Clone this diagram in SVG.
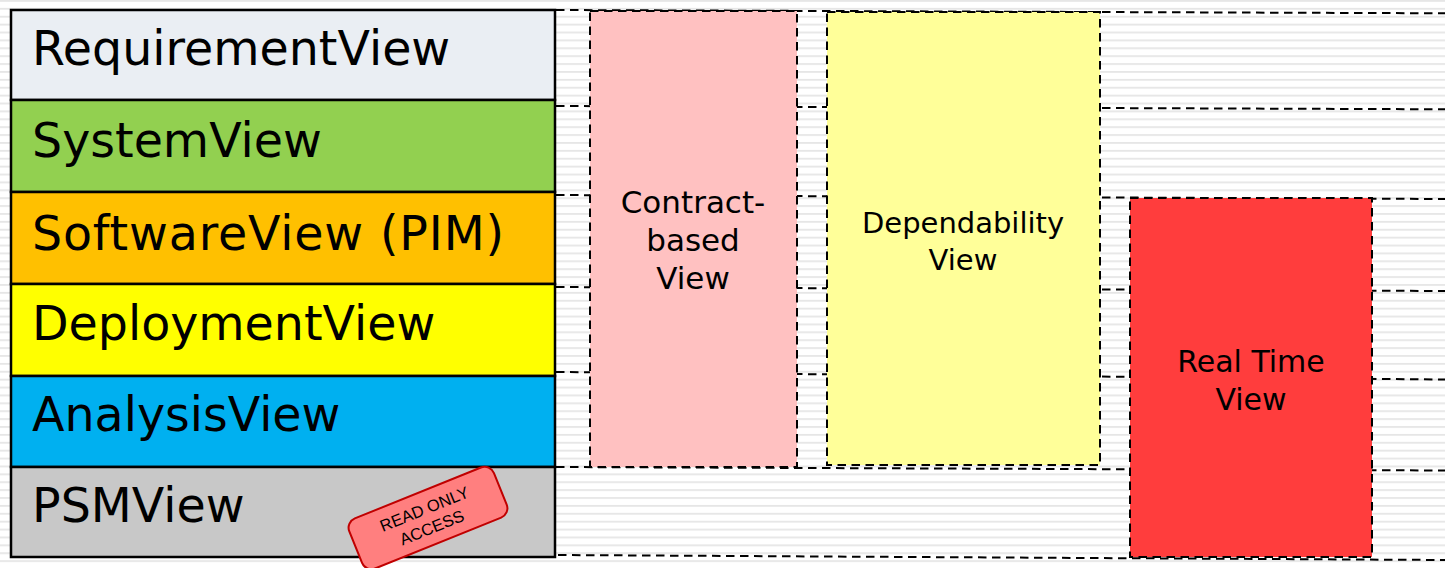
<svg xmlns="http://www.w3.org/2000/svg" width="1445" height="568" viewBox="0 0 1445 568">
  <defs>
    <pattern id="stripes" x="0" y="0" width="20" height="7.89" patternUnits="userSpaceOnUse">
      <rect x="0" y="0" width="20" height="1.8" fill="#e6e6e6"/>
    </pattern>
    <style>
      .layer { stroke: #000; stroke-width: 2.5; }
      .layer-label { font-family: "DejaVu Sans", Verdana, sans-serif; font-size: 47.5px; fill: #000; }
      .dash { fill: none; stroke: #000; stroke-width: 2; stroke-dasharray: 8.5 5.5; }
      .view { stroke: #000; stroke-width: 2; stroke-dasharray: 8.5 5.5; }
      .view-label { font-family: "DejaVu Sans", Verdana, sans-serif; fill: #000; text-anchor: middle; }
      .stamp-label { font-family: "Liberation Sans", Arial, sans-serif; font-size: 16.5px; fill: #000; text-anchor: middle; }
    </style>
  </defs>

  <rect x="0" y="0" width="1445" height="568" fill="#ffffff"/>
  <rect x="0" y="0" width="1445" height="568" fill="url(#stripes)"/>

  <!-- row frames extending the layers to the right -->
  <g id="row-frames">
    <line class="dash" x1="556" y1="10" x2="1445" y2="13.3"/>
    <line class="dash" x1="556" y1="106" x2="1445" y2="109.3"/>
    <line class="dash" x1="556" y1="195" x2="1445" y2="199"/>
    <line class="dash" x1="556" y1="287" x2="1445" y2="291"/>
    <line class="dash" x1="556" y1="372" x2="1445" y2="379.5"/>
    <line class="dash" x1="556" y1="467" x2="1445" y2="470.5"/>
    <line class="dash" x1="558" y1="555" x2="1445" y2="560"/>
  </g>

  <!-- left layer stack -->
  <g id="requirement-view">
    <rect class="layer" x="11" y="10" width="544" height="90" fill="#eaeef3"/>
    <text class="layer-label" x="32" y="65">RequirementView</text>
  </g>
  <g id="system-view">
    <rect class="layer" x="11" y="100" width="544" height="92" fill="#92d050"/>
    <text class="layer-label" x="32" y="157">SystemView</text>
  </g>
  <g id="software-view">
    <rect class="layer" x="11" y="192" width="544" height="92" fill="#ffc000"/>
    <text class="layer-label" x="32" y="250" textLength="472" lengthAdjust="spacing">SoftwareView (PIM)</text>
  </g>
  <g id="deployment-view">
    <rect class="layer" x="11" y="284" width="544" height="92" fill="#ffff00"/>
    <text class="layer-label" x="32" y="340">DeploymentView</text>
  </g>
  <g id="analysis-view">
    <rect class="layer" x="11" y="376" width="544" height="91" fill="#00b0f0"/>
    <text class="layer-label" x="32" y="431">AnalysisView</text>
  </g>
  <g id="psm-view">
    <rect class="layer" x="11" y="467" width="544" height="90" fill="#c8c8c8"/>
    <text class="layer-label" x="32" y="522">PSMView</text>
  </g>

  <!-- cross-cutting views -->
  <g id="contract-based-view">
    <rect class="view" x="590" y="11" width="207" height="456" fill="#ffc1c1"/>
    <text class="view-label" font-size="31" x="693" y="213">Contract-</text>
    <text class="view-label" font-size="31" x="693" y="251">based</text>
    <text class="view-label" font-size="31" x="693" y="289">View</text>
  </g>
  <g id="dependability-view">
    <rect class="view" x="827" y="12" width="273" height="453" fill="#ffff99"/>
    <text class="view-label" font-size="29" x="963" y="233">Dependability</text>
    <text class="view-label" font-size="29" x="963" y="270">View</text>
  </g>
  <g id="real-time-view">
    <rect class="view" x="1130" y="198" width="242" height="359" fill="#ff3d3d"/>
    <text class="view-label" font-size="30" x="1251" y="372">Real Time</text>
    <text class="view-label" font-size="30" x="1251" y="410">View</text>
  </g>

  <!-- stamp -->
  <g id="read-only-stamp" transform="translate(428,518) rotate(-22)">
    <rect x="-78" y="-27" width="156" height="54" rx="10" fill="#ff7f7f" stroke="#c00000" stroke-width="2"/>
    <text class="stamp-label" x="0" y="-4">READ ONLY</text>
    <text class="stamp-label" x="0" y="16">ACCESS</text>
  </g>
</svg>
